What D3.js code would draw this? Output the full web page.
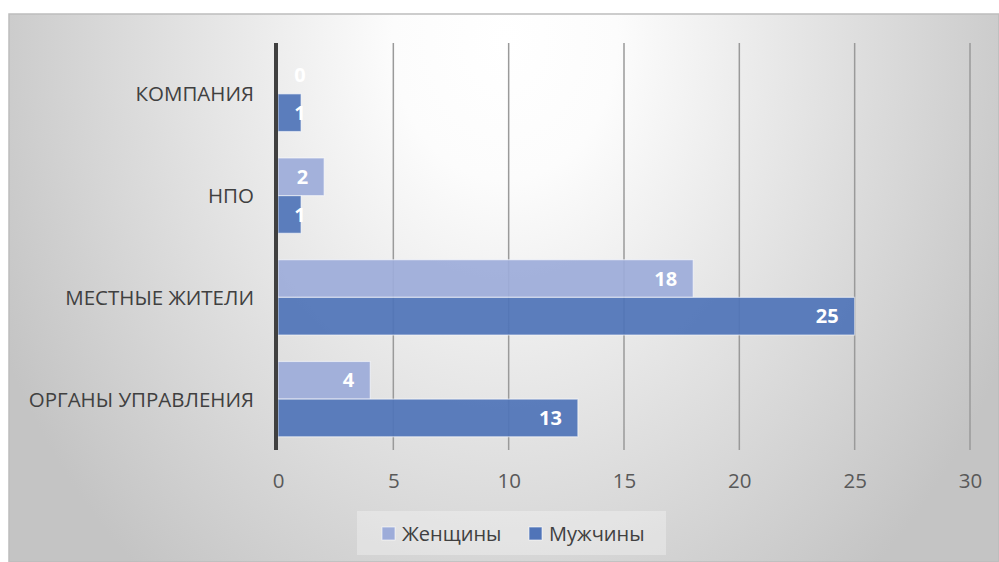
<!DOCTYPE html>
<html>
<head>
<meta charset="utf-8">
<script src="https://cdn.jsdelivr.net/npm/d3@7"></script>
<style>
  body { margin: 0; background: #fff; }
  svg { display: block; font-family: "Open Sans", "Noto Sans", sans-serif; }
</style>
</head>
<body>
<div class="chart"></div>
<script>
// data
let categories = ["КОМПАНИЯ", "НПО", "МЕСТНЫЕ ЖИТЕЛИ", "ОРГАНЫ УПРАВЛЕНИЯ"]
let seriesNames = ["Женщины", "Мужчины"]
let women = [0, 2, 18, 4]
let men = [1, 1, 25, 13]
let xTicks = [0, 5, 10, 15, 20, 25, 30]
let colors = ["#9dacd9", "#5074b8"]

let svgWidth = 999
let svgHeight = 562

let svg = d3.select('.chart')
    .append('svg')
    .attr('width', svgWidth)
    .attr('height', svgHeight)

// background gradient
let defs = svg.append('defs')
let grad = defs.append('radialGradient')
    .attr('id', 'bg')
    .attr('gradientUnits', 'userSpaceOnUse')
    .attr('cx', 505).attr('cy', 40).attr('r', 560)
    .attr('gradientTransform', 'translate(505,40) scale(1,1.25) translate(-505,-40)')
grad.append('stop').attr('offset', 0).attr('stop-color', '#ffffff')
grad.append('stop').attr('offset', 0.2).attr('stop-color', '#fcfcfc')
grad.append('stop').attr('offset', 1).attr('stop-color', '#c4c4c4')

svg.append('rect')
    .attr('x', 9).attr('y', 14)
    .attr('width', svgWidth - 9).attr('height', svgHeight - 14)
    .attr('fill', 'url(#bg)')
    .attr('stroke', '#bdbdbd')
    .attr('stroke-width', 1.5)

// scales
let x0 = 278
let xScale = d3.scaleLinear()
    .domain([0, 30])
    .range([x0, 970])

let yScale = d3.scaleBand()
    .domain(categories)
    .range([43, 450])
    .paddingInner(0.26)
    .paddingOuter(0.13)

let ySub = d3.scaleBand()
    .domain(seriesNames)
    .range([0, yScale.bandwidth()])

// gridlines
svg.append('g')
    .selectAll('line')
    .data(xTicks.slice(1))
    .join('line')
    .attr('x1', d => xScale(d)).attr('x2', d => xScale(d))
    .attr('y1', 43).attr('y2', 450)
    .attr('stroke', '#9a9a9a')
    .attr('stroke-width', 1.5)

// x axis (labels only)
let xAxis = d3.axisBottom(xScale)
    .tickValues(xTicks)
    .tickSize(0)
    .tickPadding(0)
svg.append('g')
    .attr('id', 'x-axis')
    .attr('transform', 'translate(0,473)')
    .call(xAxis)
    .call(g => g.select('.domain').remove())
    .selectAll('text')
    .attr('font-size', 20.5)
    .attr('fill', '#595959')
    .attr('font-family', '"Open Sans", sans-serif')

// bars
let rows = categories.map((c, i) => ({ cat: c, vals: [women[i], men[i]] }))

let groups = svg.append('g')
    .selectAll('g')
    .data(rows)
    .join('g')
    .attr('transform', d => `translate(0,${yScale(d.cat)})`)

groups.selectAll('rect')
    .data(d => d.vals.map((v, j) => ({ key: seriesNames[j], v: v, j: j })))
    .join('rect')
    .attr('x', x0)
    .attr('y', d => ySub(d.key))
    .attr('width', d => xScale(d.v) - x0)
    .attr('height', ySub.bandwidth())
    .attr('fill', d => colors[d.j])
    .attr('fill-opacity', 0.93)
    .attr('stroke', 'rgba(255,255,255,0.55)')
    .attr('stroke-width', d => d.v > 0 ? 1.2 : 0)

// value labels, inside end
groups.selectAll('text')
    .data(d => d.vals.map((v, j) => ({ key: seriesNames[j], v: v, j: j })))
    .join('text')
    .text(d => d.v)
    .attr('y', d => ySub(d.key) + ySub.bandwidth() / 2)
    .attr('dy', '0.36em')
    .attr('text-anchor', 'middle')
    .attr('font-size', 20)
    .attr('font-weight', 'bold')
    .attr('fill', '#ffffff')
    .attr('x', function(d) {
        let w = this.getComputedTextLength()
        return Math.max(xScale(d.v) - 16 - w / 2, x0 + 22)
    })

// category labels
svg.append('g')
    .selectAll('text')
    .data(categories)
    .join('text')
    .text(d => d)
    .attr('x', 254)
    .attr('y', d => yScale(d) + yScale.bandwidth() / 2)
    .attr('dy', '0.36em')
    .attr('text-anchor', 'end')
    .attr('font-size', 20.5)
    .attr('fill', '#404040')

// y axis line
svg.append('line')
    .attr('x1', x0 - 2).attr('x2', x0 - 2)
    .attr('y1', 43).attr('y2', 450)
    .attr('stroke', '#404040')
    .attr('stroke-width', 4)

// legend
let legend = svg.append('g')
legend.append('rect')
    .attr('x', 357).attr('y', 511)
    .attr('width', 309).attr('height', 44)
    .attr('fill', '#ffffff')
    .attr('fill-opacity', 0.3)

let legendX = [382, 529]
seriesNames.forEach((s, i) => {
    legend.append('rect')
        .attr('x', legendX[i]).attr('y', 527)
        .attr('width', 13).attr('height', 13)
        .attr('fill', colors[i])
        .attr('stroke', 'rgba(255,255,255,0.6)')
    legend.append('text')
        .text(s)
        .attr('x', legendX[i] + 20)
        .attr('y', 534)
        .attr('dy', '0.36em')
        .attr('font-size', 20)
        .attr('fill', '#404040')
})
</script>
</body>
</html>
